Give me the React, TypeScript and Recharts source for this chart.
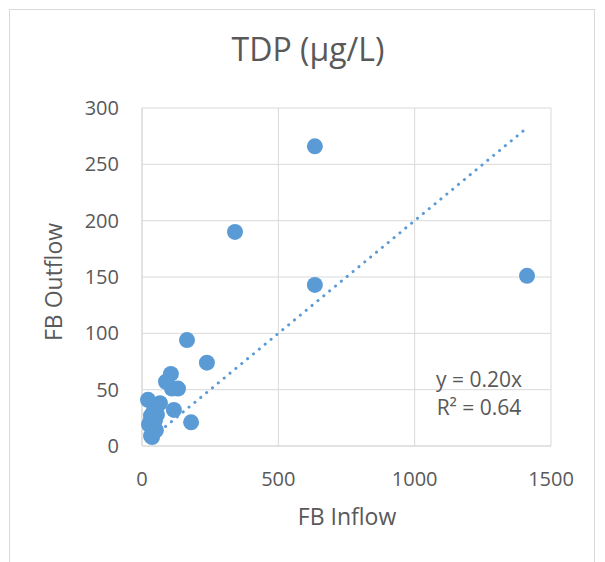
import React from 'react';
import { ScatterChart, Scatter, XAxis, YAxis, CartesianGrid, ReferenceLine } from 'recharts';

const inflow = [634, 341, 634, 1412, 165, 238, 106, 88, 132, 110, 117, 180, 22, 66, 44, 33, 29, 48, 37, 51, 33, 37, 26, 55];
const outflow = [266, 190, 143, 151, 94, 74, 64, 57, 51, 51, 32, 21, 41, 38, 32, 27, 21, 23, 16, 14, 9, 8, 19, 28];
const xTicks = [0, 500, 1000, 1500];
const yTicks = [0, 50, 100, 150, 200, 250, 300];
const slope = 0.2;
const equation = 'y = 0.20x';
const rSquared = 'R² = 0.64';
const title = 'TDP (µg/L)';
const xTitle = 'FB Inflow';
const yTitle = 'FB Outflow';

const points = inflow.map((x, i) => ({ x, y: outflow[i] }));
const xMin = Math.min(...inflow);
const xMax = Math.max(...inflow);

const FONT = '"Open Sans", Lato, sans-serif';
const TXT = '#595959';
const BLUE = '#5b9bd5';

export default function App() {
  return (
    <div style={{ position: 'absolute', left: 0, top: 0, width: 605, height: 562, fontFamily: FONT }}>
      <div style={{ position: 'absolute', left: 9, top: 9, width: 584, height: 552, border: '1px solid #d9d9d9', borderBottom: 'none', background: '#fff' }} />
      <div style={{ position: 'absolute', left: 0, top: 0 }}>
        <ScatterChart width={605} height={562} margin={{ top: 108, right: 54, bottom: 56, left: 82 }}>
          <CartesianGrid stroke="#d9d9d9" strokeWidth={1} />
          <XAxis type="number" dataKey="x" domain={[0, 1500]} ticks={xTicks} tickLine={false} axisLine={{ stroke: '#d9d9d9' }}
            tickSize={0} tickMargin={26} height={60} tick={{ fill: TXT, fontSize: 20, fontFamily: FONT }} interval={0} />
          <YAxis type="number" dataKey="y" domain={[0, 300]} ticks={yTicks} tickLine={false} axisLine={{ stroke: '#d9d9d9' }}
            tickSize={0} tickMargin={23} width={60} tick={{ fill: TXT, fontSize: 20, fontFamily: FONT }} interval={0} />
          <Scatter data={points} fill={BLUE} isAnimationActive={false}
            shape={(p: any) => <circle cx={p.cx} cy={p.cy} r={8} fill={BLUE} />} />
          <ReferenceLine segment={[{ x: xMin, y: xMin * slope }, { x: xMax, y: xMax * slope }]}
            stroke={BLUE} strokeWidth={3} strokeDasharray="0.1 7.5" strokeLinecap="round" ifOverflow="visible" />
        </ScatterChart>
      </div>
      <svg width={605} height={562} style={{ position: 'absolute', left: 0, top: 0, pointerEvents: 'none' }}>
        <text x={308} y={61} textAnchor="middle" fill={TXT} fontSize={32} fontFamily={FONT}>{title}</text>
        <text x={347} y={525} textAnchor="middle" fill={TXT} fontSize={23} fontFamily={FONT}>{xTitle}</text>
        <text x={0} y={0} transform="translate(62,282) rotate(-90)" textAnchor="middle" fill={TXT} fontSize={23} fontFamily={FONT}>{yTitle}</text>
        <text x={479} y={387} textAnchor="middle" fill={TXT} fontSize={21} fontFamily={FONT}>{equation}</text>
        <text x={479} y={415} textAnchor="middle" fill={TXT} fontSize={21} fontFamily={FONT}>{rSquared}</text>
      </svg>
    </div>
  );
}
